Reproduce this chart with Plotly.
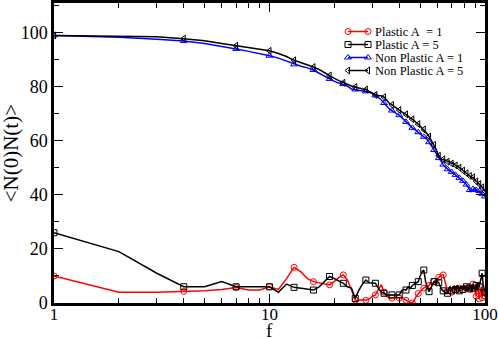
import plotly.graph_objects as go

# f = 1..100
f = list(range(1, 101))

plastic_a1 = [
    10.0, 4.0, 4.0, 4.3, 4.5, 5.0, 5.7, 4.8, 4.8, 6.0,
    5.0, 9.0, 13.2, 11.5, 9.0, 7.9, 7.5, 7.0, 6.7, 8.0,
    9.5, 10.4, 8.5, 5.0, 1.1, 1.0, 1.2, 1.0, 1.5, 2.5,
    3.0, 5.0, 6.7, 4.0, 2.5, 1.8, 1.8, 2.0, 1.8, 1.8,
    2.0, 1.5, 1.0, 0.5, 0.2, 0.0, 1.0, 2.5, 3.5, 4.5,
    5.0, 5.5, 6.0, 5.5, 6.5, 7.5, 7.0, 8.0, 8.5, 9.0,
    9.5, 10.0, 10.4, 10.4, 8.0, 6.0, 4.5, 5.0, 6.0, 4.0,
    5.5, 6.5, 5.0, 4.0, 6.0, 5.5, 4.5, 6.5, 5.0, 6.0,
    4.5, 5.5, 6.5, 7.0, 5.0, 6.5, 5.5, 7.0, 6.0, 4.5,
    2.5, 5.0, 6.5, 1.5, 4.0, 6.0, 2.0, 5.0, 3.5, 2.5,
]

plastic_a5 = [
    26.0, 19.0, 11.0, 6.0, 6.0, 7.9, 6.0, 6.0, 6.0, 6.0,
    4.0, 7.0, 5.8, 5.5, 5.0, 4.8, 6.0, 8.0, 9.8, 9.0,
    8.0, 7.3, 6.0, 5.5, 1.7, 4.8, 7.0, 8.5, 7.5, 7.3,
    7.3, 5.5, 4.0, 3.6, 3.0, 3.0, 3.0, 3.0, 3.0, 3.0,
    4.5, 5.0, 4.8, 6.0, 5.5, 6.5, 7.0, 7.5, 7.9, 10.0,
    11.5, 12.2, 8.0, 6.0, 4.2, 5.5, 7.0, 7.9, 7.5, 8.0,
    7.5, 6.0, 5.0, 4.5, 4.0, 3.5, 3.6, 5.5, 6.0, 4.5,
    5.5, 6.0, 5.0, 6.5, 5.5, 4.5, 6.0, 5.5, 5.0, 6.5,
    5.0, 6.0, 4.5, 6.0, 5.5, 6.5, 4.0, 5.5, 6.0, 5.0,
    6.5, 5.5, 7.5, 6.0, 8.0, 10.5, 11.0, 7.0, 5.0, 4.0,
]

nonplastic_a1 = [
    99.0, 98.3, 97.6, 96.9, 96.0, 95.0, 94.0, 93.1, 92.3, 91.5,
    90.6, 89.5, 88.3, 87.6, 87.0, 86.2, 85.0, 83.8, 82.9, 82.0,
    81.4, 81.0, 80.2, 79.2, 79.0, 78.7, 78.5, 78.3, 78.0, 77.6,
    76.8, 76.0, 75.2, 74.0, 72.8, 71.8, 71.2, 70.5, 70.0, 69.5,
    68.6, 67.8, 67.0, 66.2, 65.5, 64.8, 64.3, 63.8, 63.2, 62.6,
    62.0, 61.5, 61.0, 60.4, 59.5, 58.5, 57.5, 56.6, 55.5, 54.4,
    53.6, 52.8, 52.0, 51.2, 50.5, 50.0, 49.5, 49.3, 48.8, 48.5,
    48.2, 48.0, 47.4, 47.0, 46.6, 46.3, 45.8, 45.5, 45.2, 44.9,
    44.3, 43.8, 43.0, 42.4, 41.8, 41.2, 41.5, 42.2, 42.5, 42.3,
    41.8, 41.5, 41.0, 41.4, 41.2, 40.6, 40.4, 40.0, 39.8, 39.4,
]

nonplastic_a5 = [
    99.0, 98.7, 98.5, 97.8, 97.0, 96.0, 95.2, 94.4, 94.0, 93.3,
    92.3, 91.2, 89.8, 89.0, 88.2, 87.3, 86.4, 85.2, 84.2, 83.1,
    82.3, 81.5, 80.9, 80.3, 79.9, 79.4, 79.2, 79.0, 78.2, 77.5,
    77.0, 76.8, 76.7, 76.2, 75.0, 73.9, 73.3, 72.5, 72.0, 71.4,
    70.7, 70.2, 69.8, 69.0, 68.4, 68.0, 67.5, 66.8, 66.2, 65.5,
    64.8, 64.2, 63.4, 62.5, 61.6, 60.5, 59.4, 58.5, 57.2, 55.8,
    54.5, 53.4, 53.0, 53.2, 52.7, 52.9, 52.3, 52.5, 52.0, 51.6,
    51.8, 51.2, 50.9, 50.5, 50.6, 50.1, 49.9, 49.5, 49.0, 48.8,
    48.3, 48.0, 47.6, 47.5, 47.0, 46.8, 46.3, 46.5, 45.8, 45.5,
    45.0, 44.9, 44.4, 44.0, 43.6, 43.5, 42.8, 42.5, 41.9, 41.3,
]

series = [
    ("Plastic A\u00a0 = 1", plastic_a1, "#ff0000", "circle-open"),
    ("Plastic A = 5", plastic_a5, "#000000", "square-open"),
    ("Non Plastic A = 1", nonplastic_a1, "#0000ff", "triangle-up-open"),
    ("Non Plastic A = 5", nonplastic_a5, "#000000", "triangle-left-open"),
]

FONT = "Liberation Serif"
SKIP = 3  # a symbol on every third point

fig = go.Figure()
for name, ys, color, sym in series:
    fig.add_trace(go.Scatter(x=f, y=ys, mode="lines", showlegend=False,
                             line=dict(color=color, width=1.5)))
    fig.add_trace(go.Scatter(x=f[::SKIP], y=ys[::SKIP], mode="markers", showlegend=False,
                             marker=dict(symbol=sym, size=6, color=color,
                                         line=dict(color=color, width=1))))

# hand-made legend (grace style: short line with a symbol at each end),
# drawn on an overlay axis measured in pixels of the plot area
L, R, T, B = 54, 485, 3, 303
leg_x0, leg_x1, leg_text_x = 348, 368, 373
leg_y0, leg_dy = 31.5, 13
for i, (name, ys, color, sym) in enumerate(series):
    yy = leg_y0 + i * leg_dy
    fig.add_trace(go.Scatter(x=[leg_x0, leg_x1], y=[yy, yy], mode="lines+markers",
                             xaxis="x2", yaxis="y2", showlegend=False, hoverinfo="skip",
                             line=dict(color=color, width=1.5),
                             marker=dict(symbol=sym, size=6, color=color,
                                         line=dict(color=color, width=1))))
    fig.add_annotation(x=leg_text_x, y=yy, xref="x2", yref="y2", text=name,
                       showarrow=False, xanchor="left", yanchor="middle",
                       font=dict(family=FONT, size=12.5, color="black"))

fig.update_layout(
    xaxis2=dict(overlaying="x", range=[L, R], visible=False, fixedrange=True),
    yaxis2=dict(overlaying="y", range=[B, T], visible=False, fixedrange=True),
)

fig.update_layout(xaxis=dict(
    type="log", range=[0, 2], tickvals=[1, 10, 100], ticktext=["1", "10", "100"],
    ticks="inside", ticklen=9, tickwidth=1, tickcolor="black",
    minor=dict(ticks="inside", tickvals=[2, 3, 4, 5, 6, 7, 8, 9, 20, 30, 40, 50, 60, 70, 80, 90],
               ticklen=5, tickcolor="black"),
    showline=True, linecolor="black", linewidth=2.5, mirror="allticks",
    showgrid=False, zeroline=False, automargin=False,
    ticklabeloverflow="allow", ticklabelstandoff=-6,
    tickfont=dict(family=FONT, size=17, color="black"),
))
fig.update_layout(yaxis=dict(
    range=[0, 111], tickvals=[0, 20, 40, 60, 80, 100],
    ticks="inside", ticklen=9, tickwidth=1, tickcolor="black",
    minor=dict(ticks="inside", tickvals=[10, 30, 50, 70, 90, 110], ticklen=5, tickcolor="black"),
    showline=True, linecolor="black", linewidth=2.5, mirror="allticks",
    showgrid=False, zeroline=False, automargin=False, ticklabeloverflow="allow",
    tickfont=dict(family=FONT, size=18, color="black"),
))

# axis titles placed as annotations so they sit where the reference has them
fig.add_annotation(x=0.5, y=-0.093, xref="paper", yref="paper", text="f",
                   showarrow=False, xanchor="center", yanchor="middle",
                   font=dict(family=FONT, size=19, color="black"))
fig.add_annotation(x=-0.099, y=0.5, xref="paper", yref="paper", text="&lt;N(0)N(t)&gt;",
                   showarrow=False, xanchor="center", yanchor="middle", textangle=-90,
                   font=dict(family=FONT, size=21, color="black"))

fig.update_layout(
    width=498, height=338,
    margin=dict(l=54, r=13, t=3, b=35),
    paper_bgcolor="white", plot_bgcolor="white",
    font=dict(family=FONT, color="black"),
    showlegend=False,
)

# drop the browser's default 8px body margin so the figure sits at the page corner
fig.write_html("out.html", config={"displayModeBar": False},
               post_script="document.body.style.margin='0';")
